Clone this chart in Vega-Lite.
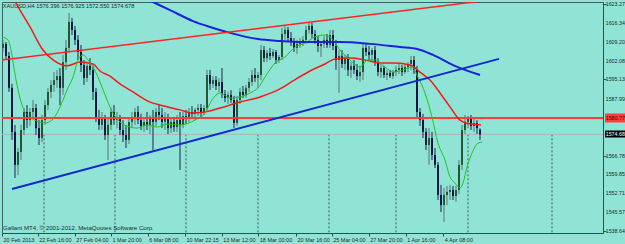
{
  "$schema": "https://vega.github.io/schema/vega-lite/v6.json",
  "width": 601,
  "height": 231,
  "autosize": {"type": "none"},
  "padding": {"left": 2, "top": 2, "right": 22, "bottom": 11},
  "background": "#90e4d6",
  "config": {
    "view": {"stroke": "#3a6464", "strokeWidth": 1},
    "font": "Liberation Sans",
    "axis": {"labelOverlap": false}
  },
  "datasets": {
    "one": [{}],
    "ylab": [{"v":1623.27},{"v":1616.34},{"v":1609.20},{"v":1602.08},{"v":1595.13},{"v":1587.99},{"v":1566.78},{"v":1559.85},{"v":1552.71},{"v":1545.57},{"v":1538.64}],
    "candles": [
      {"i":1,"o":1606.9,"h":1609.9,"l":1605.4,"c":1608.4},
      {"i":2,"o":1608.4,"h":1609.1,"l":1602.4,"c":1603.9},
      {"i":3,"o":1603.9,"h":1605.4,"l":1590.5,"c":1592.0},
      {"i":4,"o":1592.0,"h":1593.5,"l":1572.6,"c":1575.6},
      {"i":5,"o":1575.6,"h":1578.2,"l":1558.4,"c":1563.3},
      {"i":6,"o":1563.3,"h":1569.6,"l":1559.5,"c":1568.1},
      {"i":7,"o":1568.1,"h":1578.2,"l":1565.1,"c":1576.3},
      {"i":8,"o":1576.3,"h":1584.5,"l":1574.4,"c":1583.0},
      {"i":9,"o":1583.0,"h":1585.6,"l":1577.0,"c":1580.0},
      {"i":10,"o":1580.0,"h":1584.5,"l":1577.8,"c":1583.0},
      {"i":11,"o":1583.0,"h":1587.5,"l":1580.8,"c":1584.5},
      {"i":12,"o":1584.5,"h":1586.0,"l":1574.4,"c":1577.0},
      {"i":13,"o":1577.0,"h":1580.0,"l":1570.7,"c":1573.3},
      {"i":14,"o":1573.3,"h":1581.9,"l":1571.8,"c":1580.0},
      {"i":15,"o":1580.0,"h":1587.5,"l":1578.2,"c":1585.6},
      {"i":16,"o":1585.6,"h":1592.0,"l":1583.8,"c":1590.5},
      {"i":17,"o":1590.5,"h":1594.9,"l":1588.2,"c":1593.1},
      {"i":18,"o":1593.1,"h":1597.9,"l":1590.5,"c":1594.9},
      {"i":19,"o":1594.9,"h":1598.7,"l":1592.0,"c":1596.4},
      {"i":20,"o":1596.4,"h":1599.4,"l":1585.6,"c":1592.0},
      {"i":21,"o":1592.0,"h":1604.3,"l":1589.4,"c":1601.6},
      {"i":22,"o":1601.6,"h":1609.9,"l":1598.7,"c":1606.9},
      {"i":23,"o":1606.9,"h":1619.9,"l":1605.4,"c":1616.6},
      {"i":24,"o":1616.6,"h":1618.1,"l":1611.7,"c":1613.6},
      {"i":25,"o":1613.6,"h":1615.1,"l":1608.0,"c":1609.9},
      {"i":26,"o":1609.9,"h":1611.7,"l":1602.4,"c":1605.4},
      {"i":27,"o":1605.4,"h":1608.0,"l":1597.9,"c":1600.5},
      {"i":28,"o":1600.5,"h":1602.4,"l":1593.1,"c":1595.7},
      {"i":29,"o":1595.7,"h":1601.6,"l":1594.2,"c":1600.2},
      {"i":30,"o":1600.2,"h":1603.1,"l":1596.8,"c":1598.7},
      {"i":31,"o":1598.7,"h":1600.2,"l":1587.5,"c":1590.5},
      {"i":32,"o":1590.5,"h":1592.0,"l":1579.3,"c":1580.8},
      {"i":33,"o":1580.8,"h":1583.8,"l":1576.3,"c":1578.2},
      {"i":34,"o":1578.2,"h":1583.0,"l":1576.3,"c":1580.8},
      {"i":35,"o":1580.8,"h":1581.9,"l":1572.6,"c":1574.4},
      {"i":36,"o":1574.4,"h":1580.8,"l":1565.1,"c":1578.2},
      {"i":37,"o":1578.2,"h":1584.5,"l":1576.3,"c":1583.0},
      {"i":38,"o":1583.0,"h":1585.6,"l":1578.2,"c":1580.0},
      {"i":39,"o":1580.0,"h":1583.0,"l":1577.0,"c":1580.8},
      {"i":40,"o":1580.8,"h":1581.9,"l":1574.4,"c":1576.3},
      {"i":41,"o":1576.3,"h":1580.0,"l":1571.8,"c":1574.4},
      {"i":42,"o":1574.4,"h":1578.2,"l":1569.6,"c":1572.6},
      {"i":43,"o":1572.6,"h":1580.8,"l":1571.1,"c":1579.3},
      {"i":44,"o":1579.3,"h":1583.0,"l":1577.0,"c":1580.8},
      {"i":45,"o":1580.8,"h":1584.5,"l":1578.2,"c":1583.0},
      {"i":46,"o":1583.0,"h":1585.2,"l":1578.5,"c":1580.0},
      {"i":47,"o":1580.0,"h":1582.3,"l":1576.3,"c":1577.8},
      {"i":48,"o":1577.8,"h":1580.8,"l":1575.6,"c":1579.3},
      {"i":49,"o":1579.3,"h":1583.0,"l":1576.3,"c":1578.2},
      {"i":50,"o":1578.2,"h":1581.9,"l":1574.8,"c":1580.8},
      {"i":51,"o":1580.8,"h":1583.8,"l":1568.8,"c":1579.3},
      {"i":52,"o":1579.3,"h":1584.5,"l":1577.8,"c":1583.0},
      {"i":53,"o":1583.0,"h":1585.6,"l":1580.0,"c":1581.9},
      {"i":54,"o":1581.9,"h":1584.5,"l":1577.0,"c":1579.3},
      {"i":55,"o":1579.3,"h":1583.0,"l":1576.3,"c":1580.8},
      {"i":56,"o":1580.8,"h":1582.3,"l":1574.8,"c":1577.0},
      {"i":57,"o":1577.0,"h":1580.8,"l":1575.2,"c":1579.3},
      {"i":58,"o":1579.3,"h":1580.8,"l":1575.6,"c":1577.4},
      {"i":59,"o":1577.4,"h":1581.9,"l":1575.6,"c":1580.0},
      {"i":60,"o":1580.0,"h":1583.0,"l":1561.4,"c":1578.2},
      {"i":61,"o":1578.2,"h":1583.0,"l":1577.0,"c":1581.5},
      {"i":62,"o":1581.5,"h":1583.8,"l":1578.5,"c":1580.4},
      {"i":63,"o":1580.4,"h":1584.5,"l":1579.3,"c":1583.0},
      {"i":64,"o":1583.0,"h":1585.2,"l":1580.8,"c":1582.3},
      {"i":65,"o":1582.3,"h":1584.5,"l":1580.0,"c":1583.8},
      {"i":66,"o":1583.8,"h":1586.0,"l":1581.5,"c":1584.5},
      {"i":67,"o":1584.5,"h":1586.0,"l":1580.8,"c":1583.0},
      {"i":68,"o":1583.0,"h":1585.6,"l":1581.9,"c":1584.5},
      {"i":69,"o":1584.5,"h":1598.7,"l":1583.8,"c":1596.8},
      {"i":70,"o":1596.8,"h":1598.7,"l":1591.2,"c":1593.5},
      {"i":71,"o":1593.5,"h":1596.4,"l":1592.0,"c":1594.9},
      {"i":72,"o":1594.9,"h":1596.4,"l":1591.2,"c":1592.7},
      {"i":73,"o":1592.7,"h":1595.7,"l":1590.5,"c":1594.2},
      {"i":74,"o":1594.2,"h":1599.4,"l":1588.2,"c":1589.7},
      {"i":75,"o":1589.7,"h":1591.2,"l":1586.7,"c":1588.2},
      {"i":76,"o":1588.2,"h":1590.5,"l":1586.0,"c":1589.4},
      {"i":77,"o":1589.4,"h":1591.2,"l":1586.4,"c":1587.5},
      {"i":78,"o":1587.5,"h":1589.0,"l":1577.0,"c":1578.9},
      {"i":79,"o":1578.9,"h":1589.0,"l":1577.8,"c":1587.5},
      {"i":80,"o":1587.5,"h":1592.0,"l":1586.0,"c":1590.5},
      {"i":81,"o":1590.5,"h":1592.7,"l":1588.2,"c":1589.4},
      {"i":82,"o":1589.4,"h":1593.1,"l":1588.2,"c":1592.0},
      {"i":83,"o":1592.0,"h":1595.7,"l":1590.5,"c":1594.2},
      {"i":84,"o":1594.2,"h":1598.7,"l":1592.7,"c":1596.8},
      {"i":85,"o":1596.8,"h":1599.4,"l":1594.2,"c":1595.7},
      {"i":86,"o":1595.7,"h":1597.9,"l":1592.0,"c":1596.8},
      {"i":87,"o":1596.8,"h":1608.0,"l":1594.9,"c":1606.1},
      {"i":88,"o":1606.1,"h":1607.6,"l":1601.6,"c":1603.1},
      {"i":89,"o":1603.1,"h":1606.1,"l":1601.6,"c":1605.0},
      {"i":90,"o":1605.0,"h":1606.9,"l":1602.4,"c":1603.9},
      {"i":91,"o":1603.9,"h":1606.5,"l":1603.1,"c":1605.4},
      {"i":92,"o":1605.4,"h":1606.1,"l":1600.9,"c":1602.4},
      {"i":93,"o":1602.4,"h":1604.3,"l":1601.3,"c":1603.5},
      {"i":94,"o":1603.5,"h":1614.3,"l":1602.4,"c":1612.1},
      {"i":95,"o":1612.1,"h":1615.1,"l":1609.9,"c":1613.6},
      {"i":96,"o":1613.6,"h":1614.7,"l":1609.1,"c":1610.6},
      {"i":97,"o":1610.6,"h":1612.8,"l":1607.6,"c":1609.1},
      {"i":98,"o":1609.1,"h":1610.6,"l":1605.4,"c":1606.9},
      {"i":99,"o":1606.9,"h":1609.9,"l":1604.6,"c":1608.4},
      {"i":100,"o":1608.4,"h":1610.6,"l":1606.9,"c":1609.1},
      {"i":101,"o":1609.1,"h":1611.3,"l":1607.6,"c":1609.9},
      {"i":102,"o":1609.9,"h":1615.1,"l":1608.4,"c":1613.6},
      {"i":103,"o":1613.6,"h":1616.6,"l":1612.1,"c":1615.1},
      {"i":104,"o":1615.1,"h":1616.2,"l":1610.6,"c":1612.1},
      {"i":105,"o":1612.1,"h":1613.6,"l":1608.4,"c":1609.9},
      {"i":106,"o":1609.9,"h":1611.3,"l":1605.4,"c":1607.6},
      {"i":107,"o":1607.6,"h":1609.1,"l":1603.5,"c":1608.4},
      {"i":108,"o":1608.4,"h":1611.3,"l":1606.9,"c":1609.9},
      {"i":109,"o":1609.9,"h":1612.1,"l":1606.9,"c":1608.0},
      {"i":110,"o":1608.0,"h":1613.6,"l":1606.9,"c":1611.7},
      {"i":111,"o":1611.7,"h":1613.6,"l":1606.1,"c":1607.6},
      {"i":112,"o":1607.6,"h":1609.9,"l":1598.7,"c":1602.4},
      {"i":113,"o":1602.4,"h":1606.1,"l":1590.1,"c":1603.9},
      {"i":114,"o":1603.9,"h":1606.1,"l":1599.4,"c":1600.9},
      {"i":115,"o":1600.9,"h":1604.3,"l":1598.7,"c":1603.1},
      {"i":116,"o":1603.1,"h":1604.6,"l":1596.4,"c":1598.7},
      {"i":117,"o":1598.7,"h":1601.6,"l":1595.7,"c":1600.2},
      {"i":118,"o":1600.2,"h":1602.4,"l":1597.2,"c":1598.7},
      {"i":119,"o":1598.7,"h":1600.9,"l":1594.9,"c":1596.4},
      {"i":120,"o":1596.4,"h":1600.2,"l":1594.2,"c":1597.9},
      {"i":121,"o":1597.9,"h":1608.4,"l":1594.9,"c":1606.9},
      {"i":122,"o":1606.9,"h":1608.4,"l":1603.9,"c":1605.4},
      {"i":123,"o":1605.4,"h":1607.6,"l":1602.4,"c":1604.3},
      {"i":124,"o":1604.3,"h":1606.9,"l":1601.6,"c":1606.1},
      {"i":125,"o":1606.1,"h":1607.6,"l":1600.2,"c":1601.6},
      {"i":126,"o":1601.6,"h":1603.1,"l":1596.4,"c":1597.9},
      {"i":127,"o":1597.9,"h":1600.9,"l":1595.7,"c":1599.4},
      {"i":128,"o":1599.4,"h":1600.2,"l":1595.7,"c":1596.8},
      {"i":129,"o":1596.8,"h":1598.7,"l":1594.9,"c":1597.5},
      {"i":130,"o":1597.5,"h":1598.7,"l":1595.7,"c":1596.4},
      {"i":131,"o":1596.4,"h":1598.7,"l":1595.3,"c":1597.9},
      {"i":132,"o":1597.9,"h":1600.2,"l":1596.4,"c":1598.7},
      {"i":133,"o":1598.7,"h":1600.9,"l":1597.2,"c":1599.4},
      {"i":134,"o":1599.4,"h":1600.5,"l":1596.4,"c":1597.9},
      {"i":135,"o":1597.9,"h":1600.9,"l":1597.2,"c":1599.8},
      {"i":136,"o":1599.8,"h":1601.6,"l":1597.9,"c":1600.9},
      {"i":137,"o":1600.9,"h":1603.9,"l":1598.7,"c":1602.4},
      {"i":138,"o":1602.4,"h":1603.9,"l":1597.2,"c":1598.7},
      {"i":139,"o":1598.7,"h":1600.2,"l":1580.8,"c":1583.0},
      {"i":140,"o":1583.0,"h":1584.5,"l":1577.8,"c":1580.0},
      {"i":141,"o":1580.0,"h":1582.3,"l":1573.3,"c":1575.6},
      {"i":142,"o":1575.6,"h":1577.0,"l":1568.8,"c":1570.7},
      {"i":143,"o":1570.7,"h":1577.0,"l":1563.3,"c":1573.3},
      {"i":144,"o":1573.3,"h":1575.6,"l":1565.1,"c":1567.0},
      {"i":145,"o":1567.0,"h":1569.6,"l":1562.1,"c":1563.3},
      {"i":146,"o":1563.3,"h":1564.4,"l":1550.2,"c":1552.1},
      {"i":147,"o":1552.1,"h":1555.8,"l":1545.7,"c":1548.3},
      {"i":148,"o":1548.3,"h":1554.7,"l":1542.0,"c":1552.1},
      {"i":149,"o":1552.1,"h":1555.4,"l":1548.3,"c":1553.2},
      {"i":150,"o":1553.2,"h":1555.8,"l":1550.2,"c":1553.9},
      {"i":151,"o":1553.9,"h":1555.4,"l":1550.2,"c":1551.7},
      {"i":152,"o":1551.7,"h":1555.4,"l":1549.5,"c":1553.9},
      {"i":153,"o":1553.9,"h":1565.1,"l":1552.4,"c":1563.3},
      {"i":154,"o":1563.3,"h":1578.2,"l":1561.4,"c":1576.3},
      {"i":155,"o":1576.3,"h":1581.9,"l":1574.8,"c":1579.3},
      {"i":156,"o":1579.3,"h":1581.5,"l":1577.0,"c":1580.4},
      {"i":157,"o":1580.4,"h":1581.9,"l":1576.3,"c":1577.8},
      {"i":158,"o":1577.8,"h":1580.8,"l":1575.6,"c":1578.9},
      {"i":159,"o":1578.9,"h":1580.0,"l":1574.8,"c":1577.0},
      {"i":160,"o":1576.396,"h":1576.925,"l":1572.55,"c":1574.678}
    ],
    "redma": [
      {"i":4.33,"p":1625.5},{"i":6.67,"p":1621.0},{"i":10,"p":1614.7},{"i":14.33,"p":1606.1},
      {"i":17.67,"p":1602.4},{"i":22.33,"p":1600.2},{"i":26.67,"p":1601.6},{"i":31,"p":1600.9},
      {"i":33.33,"p":1598.3},{"i":36.67,"p":1596.4},{"i":40,"p":1593.5},{"i":44.33,"p":1590.5},
      {"i":50,"p":1586.7},{"i":53.33,"p":1585.6},{"i":60,"p":1583.8},{"i":64.33,"p":1582.6},
      {"i":68.33,"p":1583.0},{"i":73.33,"p":1584.5},{"i":80,"p":1586.7},{"i":86.67,"p":1588.6},
      {"i":93.33,"p":1591.6},{"i":97.67,"p":1594.6},{"i":103.33,"p":1598.3},{"i":108.33,"p":1600.9},
      {"i":111.67,"p":1602.8},{"i":116.67,"p":1603.1},{"i":121.67,"p":1602.4},{"i":126.67,"p":1601.3},
      {"i":131.67,"p":1601.3},{"i":136.67,"p":1600.5},{"i":140,"p":1597.9},{"i":143.33,"p":1594.9},
      {"i":146.67,"p":1590.1},{"i":150,"p":1584.9},{"i":153.33,"p":1580.0},{"i":155.33,"p":1578.9},
      {"i":157.33,"p":1578.5},{"i":160.33,"p":1578.2}
    ],
    "greenma": [
      {"i":0.67,"p":1611.0},{"i":2.67,"p":1609.9},{"i":3.67,"p":1606.1},{"i":4.67,"p":1599.4},
      {"i":5.67,"p":1593.1},{"i":6.67,"p":1588.2},{"i":8,"p":1583.8},{"i":10,"p":1581.1},
      {"i":12.33,"p":1579.6},{"i":15,"p":1578.9},{"i":17.33,"p":1580.0},{"i":19,"p":1582.6},
      {"i":21,"p":1587.5},{"i":22.67,"p":1592.0},{"i":24.33,"p":1596.0},{"i":26,"p":1602.4},
      {"i":27.67,"p":1604.3},{"i":29.33,"p":1602.4},{"i":31,"p":1599.8},{"i":33.33,"p":1594.2},
      {"i":35.67,"p":1587.5},{"i":37.67,"p":1582.6},{"i":40,"p":1579.3},{"i":43.33,"p":1577.4},
      {"i":45.67,"p":1577.0},{"i":49,"p":1578.2},{"i":52.33,"p":1577.4},{"i":55.67,"p":1578.5},
      {"i":60,"p":1578.2},{"i":65,"p":1580.0},{"i":68.33,"p":1582.6},{"i":70.67,"p":1587.5},
      {"i":73.33,"p":1590.1},{"i":76.67,"p":1588.2},{"i":80,"p":1588.6},{"i":84,"p":1590.5},
      {"i":86,"p":1592.0},{"i":88.33,"p":1596.0},{"i":91.67,"p":1601.3},{"i":95,"p":1603.5},
      {"i":98.33,"p":1607.2},{"i":101.67,"p":1608.7},{"i":105,"p":1611.0},{"i":107.67,"p":1611.7},
      {"i":110,"p":1611.0},{"i":113.33,"p":1606.1},{"i":116.67,"p":1602.4},{"i":120,"p":1599.8},
      {"i":122.67,"p":1602.4},{"i":125,"p":1602.4},{"i":128.33,"p":1599.8},{"i":131,"p":1597.9},
      {"i":134.33,"p":1598.7},{"i":137.33,"p":1599.8},{"i":139.33,"p":1596.0},{"i":141.67,"p":1590.1},
      {"i":144,"p":1581.1},{"i":146,"p":1571.4},{"i":148.33,"p":1565.1},{"i":150,"p":1558.8},
      {"i":151.67,"p":1556.5},{"i":153.33,"p":1554.7},{"i":154.33,"p":1556.5},{"i":155.67,"p":1562.5},
      {"i":157.33,"p":1567.7},{"i":159.33,"p":1571.4},{"i":160.67,"p":1571.8}
    ],
    "bluema": [
      {"i":46.67,"p":1626.3},{"i":51,"p":1624.0},{"i":56.67,"p":1621.0},{"i":64.33,"p":1616.9},
      {"i":70,"p":1614.7},{"i":76.67,"p":1612.5},{"i":86,"p":1610.2},{"i":93.33,"p":1609.5},
      {"i":100,"p":1609.1},{"i":113.33,"p":1609.1},{"i":123.33,"p":1608.4},{"i":133.33,"p":1607.2},
      {"i":139,"p":1606.5},{"i":144.33,"p":1604.3},{"i":151,"p":1600.5},{"i":160,"p":1596.8}
    ],
    "redtrend": [{"i":0.667,"p":1602.4},{"i":159.33,"p":1624.2}],
    "bluetrend": [{"i":4,"p":1554.3},{"i":166.33,"p":1602.8}],
    "grid": [{"g":14.67},{"g":38.33},{"g":62},{"g":86},{"g":109.67},{"g":132},{"g":156},{"g":184}]
  },
  "layer": [
    {
      "data": {"name": "grid"},
      "mark": {"type": "rule", "color": "#3e5a5a", "strokeDash": [2, 2], "strokeWidth": 1},
      "encoding": {
        "x": {
          "field": "g", "type": "quantitative",
          "scale": {"domain": [0.6667, 201], "nice": false, "zero": false, "padding": 0},
          "axis": {
            "title": null,
            "values": [0.667, 12.57, 24.9, 37, 49.23, 61.67, 73.9, 86.1, 98.67, 110.57, 122.9, 135.23, 147.77],
            "labelExpr": "datum.value < 6 ? '20 Feb 2013' : datum.value < 18 ? '22 Feb 16:00' : datum.value < 30 ? '27 Feb 04:00' : datum.value < 43 ? '1 Mar 20:00' : datum.value < 55 ? '6 Mar 08:00' : datum.value < 68 ? '10 Mar 22:15' : datum.value < 80 ? '13 Mar 12:00' : datum.value < 92 ? '18 Mar 00:00' : datum.value < 104 ? '20 Mar 16:00' : datum.value < 116 ? '25 Mar 04:00' : datum.value < 129 ? '27 Mar 20:00' : datum.value < 141 ? '1 Apr 16:00' : '4 Apr 08:00'",
            "labelAlign": "left",
            "labelBaseline": "top",
            "labelPadding": 1,
            "labelOffset": 1,
            "labelFontSize": 5.5,
            "labelColor": "#1c2b2b",
            "labelFlush": false,
            "labelOverlap": false,
            "labelBound": false,
            "tickSize": 3,
            "tickColor": "#2e4f4f",
            "domainColor": "#2e4f4f",
            "grid": false
          }
        },
        "y": {
          "datum": 1574.678, "type": "quantitative",
          "scale": {"domain": [1537.9, 1624.01], "nice": false, "zero": false, "padding": 0},
          "axis": {
            "title": null,
            "orient": "right",
            "values": [1623.27, 1616.34, 1609.20, 1602.08, 1595.13, 1587.99, 1580.85, 1573.92, 1566.78, 1559.85, 1552.71, 1545.57, 1538.64],
            "labels": false,
            "tickSize": 3,
            "tickColor": "#2e4f4f",
            "domainColor": "#2e4f4f",
            "grid": false
          }
        }
      }
    },
    {
      "data": {"name": "one"},
      "mark": {"type": "rule", "color": "#a9b6b4", "strokeWidth": 1},
      "encoding": {"y": {"datum": 1574.678, "type": "quantitative", "title": null}}
    },
    {
      "data": {"name": "candles"},
      "mark": {"type": "rule", "strokeWidth": 1},
      "encoding": {
        "x": {"field": "i", "type": "quantitative", "title": null},
        "y": {"field": "l", "type": "quantitative", "title": null},
        "y2": {"field": "h"},
        "color": {"condition": {"test": "datum.c >= datum.o", "value": "#5e7470"}, "value": "#1d2452"}
      }
    },
    {
      "data": {"name": "candles"},
      "mark": {"type": "bar", "size": 2},
      "encoding": {
        "x": {"field": "i", "type": "quantitative", "title": null},
        "y": {"field": "o", "type": "quantitative", "title": null},
        "y2": {"field": "c"},
        "color": {"condition": {"test": "datum.c >= datum.o", "value": "#245535"}, "value": "#0d1440"}
      }
    },
    {
      "data": {"name": "one"},
      "mark": {"type": "rule", "color": "#ff3b3b", "strokeWidth": 2},
      "encoding": {"y": {"datum": 1580.77, "type": "quantitative", "title": null}}
    },
    {
      "data": {"name": "redma"},
      "mark": {"type": "line", "color": "#f01c1c", "strokeWidth": 1.5, "clip": true, "interpolate": "monotone"},
      "encoding": {
        "x": {"field": "i", "type": "quantitative", "title": null},
        "y": {"field": "p", "type": "quantitative", "title": null}
      }
    },
    {
      "data": {"name": "greenma"},
      "mark": {"type": "line", "color": "#1fc41f", "strokeWidth": 1, "clip": true, "interpolate": "monotone"},
      "encoding": {
        "x": {"field": "i", "type": "quantitative", "title": null},
        "y": {"field": "p", "type": "quantitative", "title": null}
      }
    },
    {
      "data": {"name": "bluema"},
      "mark": {"type": "line", "color": "#1c22d6", "strokeWidth": 2, "clip": true, "interpolate": "monotone"},
      "encoding": {
        "x": {"field": "i", "type": "quantitative", "title": null},
        "y": {"field": "p", "type": "quantitative", "title": null}
      }
    },
    {
      "data": {"name": "redtrend"},
      "mark": {"type": "line", "color": "#ff2424", "strokeWidth": 1.5, "clip": true},
      "encoding": {
        "x": {"field": "i", "type": "quantitative", "title": null},
        "y": {"field": "p", "type": "quantitative", "title": null}
      }
    },
    {
      "data": {"name": "bluetrend"},
      "mark": {"type": "line", "color": "#1428d2", "strokeWidth": 2, "clip": true},
      "encoding": {
        "x": {"field": "i", "type": "quantitative", "title": null},
        "y": {"field": "p", "type": "quantitative", "title": null}
      }
    },
    {
      "data": {"name": "one"},
      "mark": {"type": "text", "align": "left", "baseline": "alphabetic", "fontSize": 5.6, "color": "#1c2b2b"},
      "encoding": {
        "x": {"datum": 0.9, "type": "quantitative"},
        "y": {"datum": 1621.6, "type": "quantitative"},
        "text": {"value": "XAUUSD,H4  1576.396 1576.925 1572.550 1574.678"}
      }
    },
    {
      "data": {"name": "one"},
      "mark": {"type": "text", "align": "left", "baseline": "alphabetic", "fontSize": 6.1, "color": "#1c2b2b"},
      "encoding": {
        "x": {"datum": 1, "type": "quantitative"},
        "y": {"datum": 1539.0, "type": "quantitative"},
        "text": {"value": "Gallant MT4, © 2001-2012, MetaQuotes Software Corp."}
      }
    },
    {
      "data": {"name": "ylab"},
      "mark": {"type": "text", "align": "left", "baseline": "middle", "fontSize": 5.3, "color": "#1c2b2b"},
      "encoding": {
        "x": {"datum": 201.9, "type": "quantitative"},
        "y": {"field": "v", "type": "quantitative", "title": null},
        "text": {"field": "v", "type": "quantitative", "format": ".2f"}
      }
    },
    {
      "data": {"name": "one"},
      "mark": {"type": "rect", "color": "#ff3b3b"},
      "encoding": {
        "x": {"datum": 201.67, "type": "quantitative"},
        "x2": {"datum": 208.5},
        "y": {"datum": 1582.45, "type": "quantitative"},
        "y2": {"datum": 1579.09}
      }
    },
    {
      "data": {"name": "one"},
      "mark": {"type": "text", "align": "left", "baseline": "middle", "fontSize": 5.3, "color": "#2a1010"},
      "encoding": {
        "x": {"datum": 201.9, "type": "quantitative"},
        "y": {"datum": 1580.77, "type": "quantitative"},
        "text": {"value": "1580.77"}
      }
    },
    {
      "data": {"name": "one"},
      "mark": {"type": "rect", "color": "#000000"},
      "encoding": {
        "x": {"datum": 201.67, "type": "quantitative"},
        "x2": {"datum": 208.5},
        "y": {"datum": 1576.11, "type": "quantitative"},
        "y2": {"datum": 1573.5}
      }
    },
    {
      "data": {"name": "one"},
      "mark": {"type": "text", "align": "left", "baseline": "middle", "fontSize": 5.3, "color": "#ffffff"},
      "encoding": {
        "x": {"datum": 201.9, "type": "quantitative"},
        "y": {"datum": 1574.8, "type": "quantitative"},
        "text": {"value": "1574.68"}
      }
    }
  ]
}
